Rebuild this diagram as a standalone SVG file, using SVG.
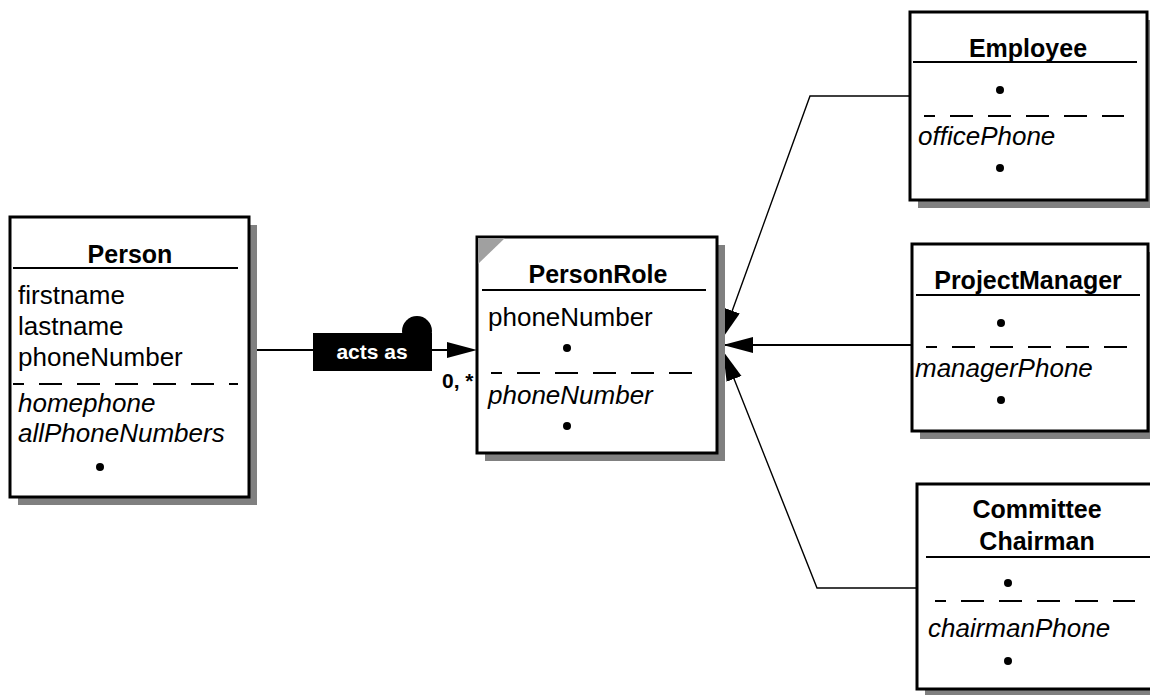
<svg xmlns="http://www.w3.org/2000/svg" width="1150" height="695" viewBox="0 0 1150 695">
<defs>
<style>
.shadow{fill:#808080;stroke:none}
.box{fill:#fff;stroke:#000;stroke-width:3}
.hdr{stroke:#000;stroke-width:2}
.dash{stroke:#000;stroke-width:2;stroke-dasharray:23 15;stroke-dashoffset:12}
.t{font-family:"Liberation Sans",Arial,sans-serif;font-size:26px;fill:#000}
.i{font-style:italic}
.b{font-weight:bold;text-anchor:middle;font-size:25px}
.conn{fill:none;stroke:#000;stroke-width:1.4}
</style>
<marker id="arr" markerUnits="userSpaceOnUse" markerWidth="32" markerHeight="18" refX="30" refY="8" orient="auto">
<path d="M0,0 L30,8 L0,16 z" fill="#000"/>
</marker>
</defs>
<rect width="1150" height="695" fill="#fff"/>

<g id="connectors">
<line x1="249" y1="350" x2="449" y2="350" stroke="#000" stroke-width="2"/>
<polygon points="447,342 477,350 447,358" fill="#000"/>
<circle cx="417" cy="331" r="15" fill="#000"/>
<rect x="313" y="333" width="119" height="38" fill="#000"/>
<text x="372" y="359" class="t b" style="font-size:21px;fill:#fff">acts as</text>
<text x="442" y="388" class="t" style="font-size:21px;font-weight:bold">0, *</text>
<polyline class="conn" points="910,96 810,96 722,339" marker-end="url(#arr)"/>
<line x1="912" y1="345" x2="723" y2="345" stroke="#000" stroke-width="2" marker-end="url(#arr)"/>
<polyline class="conn" points="917,588 817,588 723,351" marker-end="url(#arr)"/>
</g>

<g id="person">
<rect class="shadow" x="18" y="225" width="239" height="280"/>
<rect class="box" x="10" y="217" width="239" height="280"/>
<text x="130" y="263" class="t b">Person</text>
<line class="hdr" x1="13" y1="268" x2="238" y2="268"/>
<text x="18" y="304" class="t">firstname</text>
<text x="18" y="335" class="t">lastname</text>
<text x="18" y="366" class="t">phoneNumber</text>
<line class="dash" x1="13" y1="384" x2="238" y2="384"/>
<text x="18" y="412" class="t i">homephone</text>
<text x="18" y="442" class="t i">allPhoneNumbers</text>
<circle cx="100" cy="467" r="4" fill="#000"/>
</g>

<g id="personrole">
<rect class="shadow" x="485" y="245" width="240" height="216"/>
<rect class="box" x="477" y="237" width="240" height="216"/>
<polygon points="478,238 505,238 478,264" fill="#a0a0a0"/>
<text x="598" y="283" class="t b">PersonRole</text>
<line class="hdr" x1="482" y1="290" x2="706" y2="290"/>
<text x="488" y="326" class="t">phoneNumber</text>
<circle cx="567" cy="348" r="4" fill="#000"/>
<line class="dash" x1="491" y1="373" x2="692" y2="373"/>
<text x="488" y="404" class="t i">phoneNumber</text>
<circle cx="567" cy="426" r="4" fill="#000"/>
</g>

<g id="employee">
<rect class="shadow" x="918" y="20" width="237" height="188"/>
<rect class="box" x="910" y="12" width="237" height="188"/>
<text x="1028" y="57" class="t b">Employee</text>
<line class="hdr" x1="913" y1="62" x2="1137" y2="62"/>
<circle cx="1000" cy="90" r="4" fill="#000"/>
<line class="dash" x1="924" y1="116" x2="1124" y2="116"/>
<text x="918" y="145" class="t i">officePhone</text>
<circle cx="1000" cy="168" r="4" fill="#000"/>
</g>

<g id="projectmanager">
<rect class="shadow" x="920" y="252" width="236" height="187"/>
<rect class="box" x="912" y="244" width="236" height="187"/>
<text x="1028" y="289" class="t b">ProjectManager</text>
<line class="hdr" x1="916" y1="295" x2="1140" y2="295"/>
<circle cx="1001" cy="323" r="4" fill="#000"/>
<line class="dash" x1="926" y1="347" x2="1128" y2="347"/>
<text x="915" y="377" class="t i">managerPhone</text>
<circle cx="1001" cy="400" r="4" fill="#000"/>
</g>

<g id="committeechairman">
<rect class="shadow" x="925" y="492" width="240" height="205"/>
<rect class="box" x="917" y="484" width="240" height="205"/>
<text x="1037" y="518" class="t b">Committee</text>
<text x="1037" y="550" class="t b">Chairman</text>
<line class="hdr" x1="926" y1="557" x2="1155" y2="557"/>
<circle cx="1008" cy="583" r="4" fill="#000"/>
<line class="dash" x1="935" y1="601" x2="1135" y2="601"/>
<text x="928" y="637" class="t i">chairmanPhone</text>
<circle cx="1008" cy="661" r="4" fill="#000"/>
</g>
</svg>
